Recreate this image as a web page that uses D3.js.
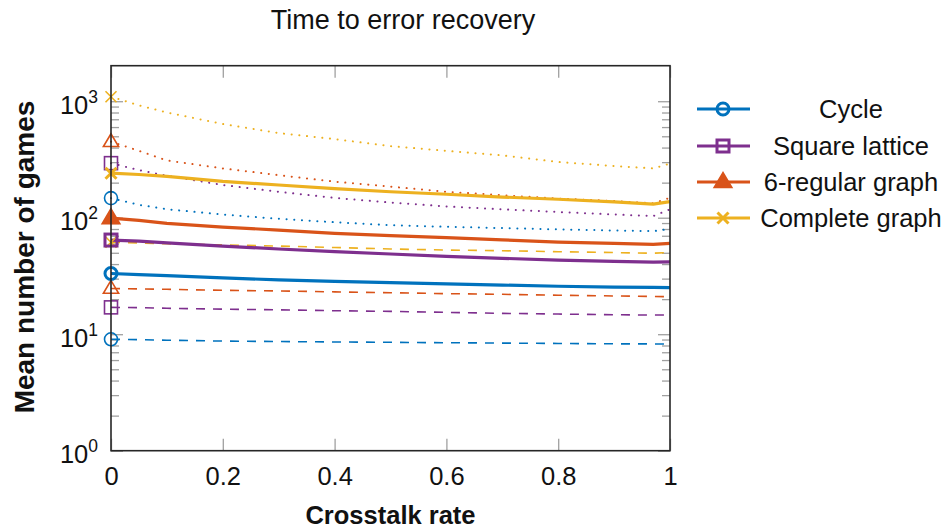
<!DOCTYPE html>
<html><head><meta charset="utf-8">
<script src="https://cdn.jsdelivr.net/npm/d3@7"></script>
<style>
body{margin:0;background:#fff;}
text{font-family:"Liberation Sans","DejaVu Sans",sans-serif;}
</style></head>
<body><svg id="c" width="950" height="531"></svg>
<script>
// ---- data ----
const crosstalk = [0, 0.05, 0.1, 0.2, 0.3, 0.4, 0.5, 0.6, 0.7, 0.8, 0.9, 0.97, 1];
const cycleSolid   = [33.2, 32.5, 31.8, 30.4, 29.3, 28.4, 27.7, 27.0, 26.4, 25.8, 25.4, 25.2, 25.1];
const cycleDashed  = [9.04, 8.98, 8.88, 8.73, 8.65, 8.58, 8.52, 8.45, 8.39, 8.33, 8.27, 8.25, 8.24];
const cycleDotted  = [147.3, 129, 118.3, 106.5, 97.9, 91.5, 86.2, 83.6, 81.5, 79.4, 77.7, 76.7, 79.9];
const squareSolid  = [64.3, 62.9, 60.7, 57.1, 53.9, 51.2, 48.8, 46.5, 44.8, 43.3, 42.2, 41.5, 41.7];
const squareDashed = [17.0, 16.9, 16.7, 16.4, 16.2, 15.9, 15.7, 15.4, 15.1, 14.9, 14.7, 14.6, 14.6];
const squareDotted = [294, 256, 229, 191, 167, 148, 135, 125, 118, 112, 106.6, 103.3, 118];
const regSolid     = [99.2, 94.9, 89.5, 83.1, 78.3, 73.5, 70.1, 67.4, 64.5, 61.8, 60.2, 59.1, 60.2];
const regDashed    = [24.7, 24.5, 24.3, 23.8, 23.5, 23.1, 22.7, 22.3, 22.0, 21.6, 21.3, 21.1, 21.0];
const regDotted    = [449, 375, 310, 265, 232, 204, 185, 167, 156, 146, 139, 133, 148];
const completeSolid  = [241, 235, 226, 205, 191, 178, 167, 159, 150.5, 144, 136.5, 131, 137.5];
const completeDashed = [61.5, 60.7, 59.7, 58.4, 57.1, 55.5, 53.9, 52.8, 52.1, 51.1, 50.2, 49.6, 50.2];
const completeDotted = [1093, 921, 800, 637, 533, 473, 412, 375, 343, 301, 278, 265, 291];
const seriesNames = ["Cycle", "Square lattice", "6-regular graph", "Complete graph"];
const xTicks = [0, 0.2, 0.4, 0.6, 0.8, 1];
const yMajor = [1, 10, 100, 1000];
const yMinor = [2,3,4,5,6,7,8,9,20,30,40,50,60,70,80,90,200,300,400,500,600,700,800,900];
const yMajorExp = ["0", "1", "2", "3"];
const titleText = "Time to error recovery";
const xLabel = "Crosstalk rate";
const yLabel = "Mean number of games";

// ---- styles ----
const colors = ["#0072BD", "#7E2F8E", "#D95319", "#EDB120"];
const markers = ["circle", "square", "triangle", "cross"];
const groups = [
  {solid: cycleSolid, dashed: cycleDashed, dotted: cycleDotted},
  {solid: squareSolid, dashed: squareDashed, dotted: squareDotted},
  {solid: regSolid, dashed: regDashed, dotted: regDotted},
  {solid: completeSolid, dashed: completeDashed, dotted: completeDotted}
];

const svg = d3.select("#c");
const L = 111, R = 670, T = 65.7, B = 450.7;
const x = d3.scaleLinear().domain([0, 1]).range([L, R]);
const y = d3.scaleLog().domain([1, 2018]).range([B, T]);
const FS = 25.5;

// ticks (inward, gray)
const tickColor = "#a0a0a0";
function styleAxis(g){ g.select(".domain").remove(); g.selectAll("line").attr("stroke", tickColor).attr("stroke-width", 1.3); }
svg.append("g").attr("transform", `translate(0,${B})`)
  .call(d3.axisBottom(x).tickValues(xTicks).tickSize(-12).tickPadding(16).tickFormat(d => d === 0 || d === 1 ? String(d) : d3.format(".1f")(d)))
  .call(styleAxis)
  .call(g => g.selectAll("text").attr("font-size", FS).attr("fill", "#111").attr("font-family", "Liberation Sans, sans-serif"));
svg.append("g").attr("transform", `translate(0,${T})`)
  .call(d3.axisTop(x).tickValues(xTicks).tickSize(-12).tickFormat(""))
  .call(styleAxis);
// y minor
svg.append("g").attr("transform", `translate(${L},0)`)
  .call(d3.axisLeft(y).tickValues(yMinor).tickSize(-8).tickFormat(""))
  .call(styleAxis);
svg.append("g").attr("transform", `translate(${R},0)`)
  .call(d3.axisRight(y).tickValues(yMinor).tickSize(-8).tickFormat(""))
  .call(styleAxis);
// y major
const yAxisG = svg.append("g").attr("transform", `translate(${L},0)`)
  .call(d3.axisLeft(y).tickValues(yMajor).tickSize(-12).tickFormat(""))
  .call(styleAxis);
yAxisG.selectAll(".tick text").each(function(d, i){
  const t = d3.select(this).attr("font-size", FS).attr("fill", "#111").attr("dy", 12).attr("text-anchor", "end").attr("x", -13);
  t.append("tspan").text("10");
  t.append("tspan").attr("font-size", 17.5).attr("dy", -11).text(yMajorExp[i]);
});
svg.append("g").attr("transform", `translate(${R},0)`)
  .call(d3.axisRight(y).tickValues(yMajor).tickSize(-12).tickFormat(""))
  .call(styleAxis);

// lines
const line = d3.line().x((d, i) => x(crosstalk[i])).y(d => y(d));
const styles = {
  solid: {w: 3.2, dash: null},
  dashed: {w: 1.6, dash: "9,8"},
  dotted: {w: 2, dash: "0.1,7.6"}
};
const order = ["dashed", "dotted", "solid"];
const plot = svg.append("g");
function drawMarker(g, type, cx, cy, color, filledTri, thick){
  const sw = thick ? 3 : 1.6;
  if (type === "circle") {
    g.append("circle").attr("cx", cx).attr("cy", cy).attr("r", thick ? 6 : 6.5).attr("fill", "none").attr("stroke", color).attr("stroke-width", sw);
  } else if (type === "square") {
    const s = thick ? 12 : 13;
    g.append("rect").attr("x", cx - s/2).attr("y", cy - s/2).attr("width", s).attr("height", s).attr("fill", "none").attr("stroke", color).attr("stroke-width", sw);
  } else if (type === "triangle") {
    const r = 8;
    const pts = [[cx, cy - r], [cx - r*0.95, cy + r*0.6], [cx + r*0.95, cy + r*0.6]];
    g.append("polygon").attr("points", pts.map(p => p.join(",")).join(" "))
      .attr("fill", filledTri ? color : "none").attr("stroke", color).attr("stroke-width", sw).attr("stroke-linejoin", "miter");
  } else {
    const r = 5.5;
    g.append("path").attr("d", `M${cx-r},${cy-r}L${cx+r},${cy+r}M${cx-r},${cy+r}L${cx+r},${cy-r}`)
      .attr("stroke", color).attr("stroke-width", sw).attr("fill", "none");
  }
}
order.forEach(kind => {
  groups.forEach((g, gi) => {
    const data = g[kind];
    plot.append("path").datum(data).attr("d", line)
      .attr("fill", "none").attr("stroke", colors[gi]).attr("stroke-width", styles[kind].w)
      .attr("stroke-dasharray", styles[kind].dash).attr("stroke-linecap", kind === "dotted" ? "round" : "butt")
      .attr("stroke-linejoin", "round");
  });
});
order.forEach(kind => {
  groups.forEach((g, gi) => {
    drawMarker(plot, markers[gi], x(crosstalk[0]), y(g[kind][0]), colors[gi], kind === "solid", kind === "solid");
  });
});

// frame
svg.append("rect").attr("x", L).attr("y", T).attr("width", R - L).attr("height", B - T)
  .attr("fill", "none").attr("stroke", "#262626").attr("stroke-width", 1.6);

// title and labels
svg.append("text").attr("x", 403).attr("y", 29).attr("text-anchor", "middle").attr("font-size", 27).attr("fill", "#111").text(titleText);
svg.append("text").attr("x", (L + R) / 2).attr("y", 524).attr("text-anchor", "middle").attr("font-size", 25.5).attr("font-weight", "bold").attr("fill", "#111").text(xLabel);
svg.append("text").attr("transform", `translate(34,257) rotate(-90)`).attr("text-anchor", "middle").attr("font-size", 28).attr("font-weight", "bold").attr("fill", "#111").text(yLabel);

// legend
const leg = svg.append("g");
const legY = [109, 146, 182, 218];
seriesNames.forEach((name, i) => {
  leg.append("line").attr("x1", 697).attr("x2", 750).attr("y1", legY[i]).attr("y2", legY[i])
    .attr("stroke", colors[i]).attr("stroke-width", 3.2);
  drawMarker(leg, markers[i], 723, legY[i], colors[i], true, true);
  leg.append("text").attr("x", 851).attr("y", legY[i]).attr("dy", "0.35em").attr("text-anchor", "middle")
    .attr("font-size", FS).attr("fill", "#111").text(name);
});
</script></body></html>
